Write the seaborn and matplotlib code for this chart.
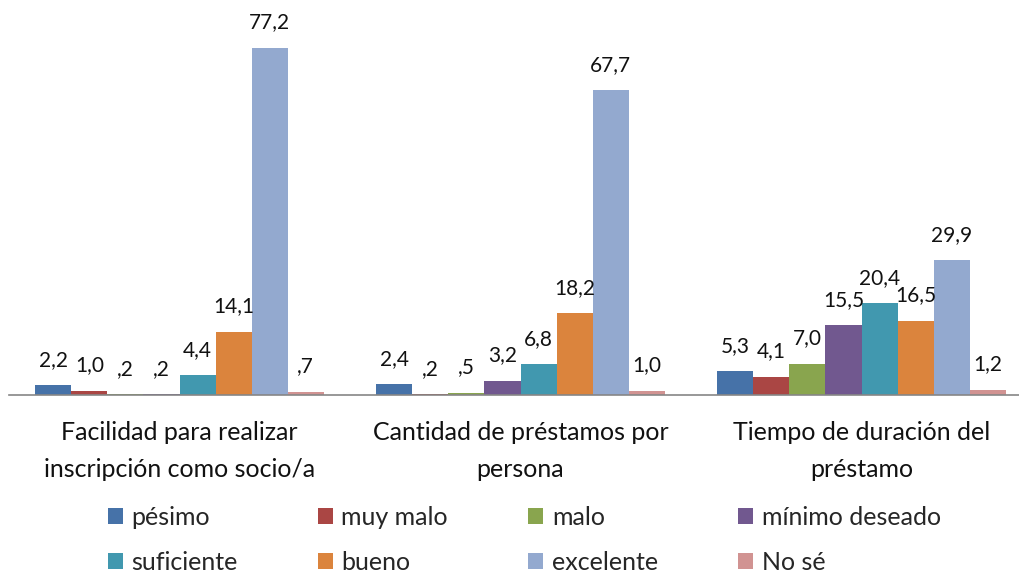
import numpy as np
import pandas as pd
import matplotlib
matplotlib.use("Agg")
import matplotlib.pyplot as plt
import seaborn as sns

categories = [
    "Facilidad para realizar\ninscripción como socio/a",
    "Cantidad de préstamos por\npersona",
    "Tiempo de duración del\npréstamo",
]
series = ["pésimo", "muy malo", "malo", "mínimo deseado",
          "suficiente", "bueno", "excelente", "No sé"]
facilidad = [2.2, 1.0, 0.2, 0.2, 4.4, 14.1, 77.2, 0.7]
cantidad = [2.4, 0.2, 0.5, 3.2, 6.8, 18.2, 67.7, 1.0]
tiempo = [5.3, 4.1, 7.0, 15.5, 20.4, 16.5, 29.9, 1.2]
colors = ["#4672A8", "#AA4644", "#89A54E", "#71588F",
          "#4198AF", "#DB843D", "#93A9CF", "#D19392"]

rows = []
for cat, vals in zip(categories, [facilidad, cantidad, tiempo]):
    for s, v in zip(series, vals):
        rows.append({"cat": cat, "serie": s, "valor": v})
df = pd.DataFrame(rows)

sns.set_style("white")
plt.rcParams["font.family"] = ["Lato", "DejaVu Sans"]


def fmt(v):
    t = f"{v:.1f}".replace(".", ",")
    if t.startswith("0,"):
        t = t[1:]
    return t


fig = plt.figure(figsize=(10.19, 5.76), dpi=100)
ax = fig.add_axes([9 / 1019, 181 / 576, 1023 / 1019, 360 / 576])

sns.barplot(data=df, x="cat", y="valor", hue="serie", order=categories,
            hue_order=series, palette=colors, width=0.845, gap=0,
            saturation=1, linewidth=0, legend=True, ax=ax)

for cont, s in zip(ax.containers, series):
    vals = df[df["serie"] == s]["valor"].tolist()
    ax.bar_label(cont, labels=[fmt(v) for v in vals], padding=11,
                 fontsize=15, color="#111111")

ax.set_ylim(0, 80)
ax.set_xlim(-0.5, 2.5)
ax.set_xlabel("")
ax.set_ylabel("")
ax.set_yticks([])
for sp in ["top", "right", "left"]:
    ax.spines[sp].set_visible(False)
ax.spines["bottom"].set_color("#868686")
ax.spines["bottom"].set_linewidth(1.2)
ax.tick_params(axis="x", which="major", length=0, pad=19, labelsize=18)
ax.set_xticks([-0.5, 0.5, 1.5, 2.5], minor=True)
ax.tick_params(axis="x", which="minor", length=8, color="#868686",
               width=1.2, direction="out")
for lbl in ax.get_xticklabels():
    lbl.set_linespacing(1.7)
    lbl.set_color("#111111")

handles, labels = ax.get_legend_handles_labels()
ax.get_legend().remove()
order = [0, 4, 1, 5, 2, 6, 3, 7]
fig.legend([handles[i] for i in order], [labels[i] for i in order],
           ncol=4, loc="lower left", bbox_to_anchor=(85 / 1019, -0.035),
           frameon=False, fontsize=18, handlelength=0.6, handleheight=0.6,
           handletextpad=0.35, columnspacing=3.2, labelspacing=0.88)

fig.savefig("out.png", dpi=100)
